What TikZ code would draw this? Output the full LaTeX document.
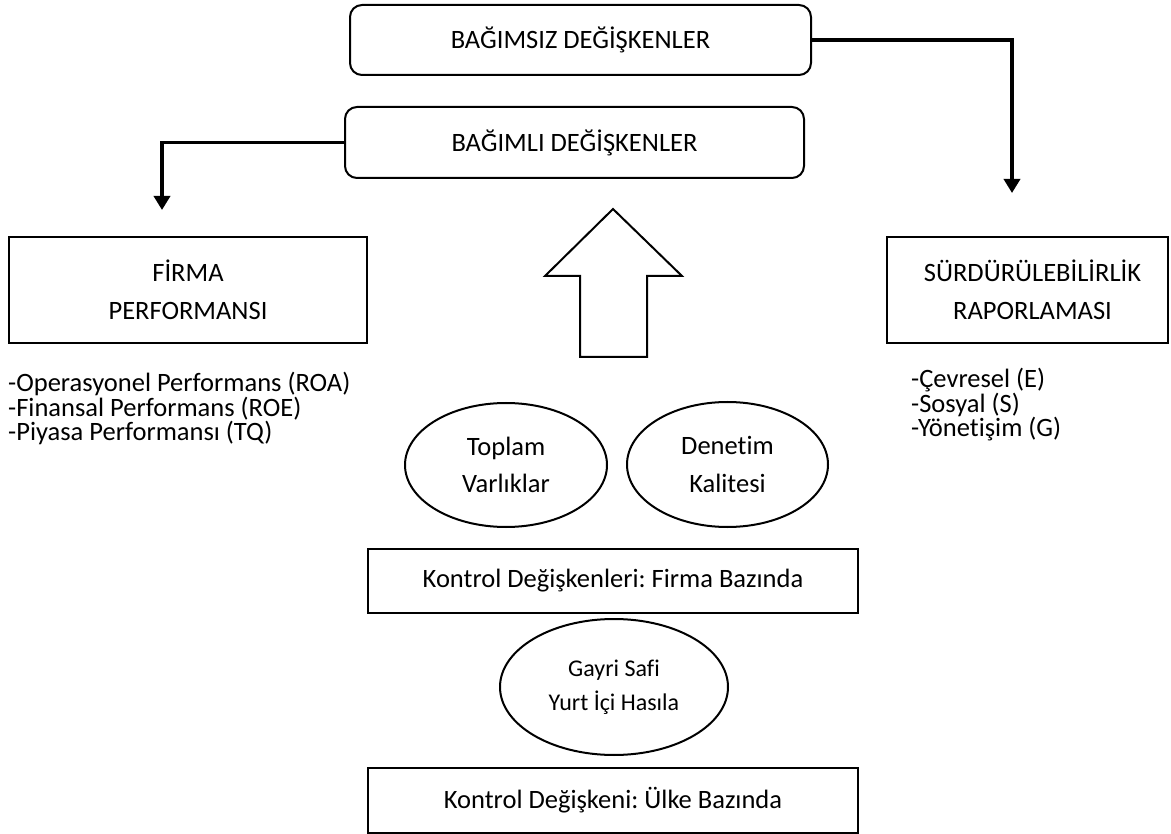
\documentclass[tikz,border=0pt]{standalone}
\usepackage{fontspec}
\setmainfont{Carlito}[Ligatures={NoCommon}]
\usetikzlibrary{arrows.meta,shapes.geometric}
\frenchspacing
\begin{document}
\begin{tikzpicture}[x=1pt,y=-1pt,
  rbox/.style={draw,line width=2pt,rounded corners=12pt,minimum width=#1,minimum height=70pt,inner sep=0pt,font=\fontsize{26.5}{30}\selectfont},
  sbox/.style={draw,line width=2pt,inner sep=0pt,align=center},
  oval/.style={draw,line width=2pt,ellipse,inner sep=0pt,align=center},
  conn/.style={line width=3.5pt,-{Triangle[width=16pt,length=14pt]}},
  bigtxt/.style={font=\fontsize{26.5}{37.5}\selectfont},
  listtxt/.style={font=\fontsize{26.5}{24.5}\selectfont,align=left,anchor=north west,inner sep=0pt}
]
\useasboundingbox (0,0) rectangle (1171,834);

\node[rbox=461pt] (indep) at (580.5,40) {BAĞIMSIZ DEĞİŞKENLER};
\node[rbox=459pt,minimum height=71pt] (dep) at (574.5,142.5) {BAĞIMLI DEĞİŞKENLER};

\node[sbox,bigtxt,minimum width=358pt,minimum height=106pt] (firma) at (188,290) {FİRMA\\PERFORMANSI};
\node[sbox,bigtxt,minimum width=281pt,minimum height=106pt] (surd) at (1027.5,290) {\hspace{10pt}SÜRDÜRÜLEBİLİRLİK\\\hspace{10pt}RAPORLAMASI};

\coordinate (rt) at (1012,193);
\coordinate (lt) at (162,210);
\draw[conn] (indep.east) -| (rt);
\draw[conn] (dep.west) -| (lt);

\node[listtxt] (flist) at (8,372) {-Operasyonel Performans (ROA)\\-Finansal Performans (ROE)\\-Piyasa Performansı (TQ)};
\node[listtxt] (slist) at (911,368) {-Çevresel (E)\\-Sosyal (S)\\-Yönetişim (G)};

\draw[line width=2pt,line join=miter] (613,209) -- (682,276) -- (647,276) -- (647,357) -- (580,357) -- (580,276) -- (545,276) -- cycle;

\node[oval,bigtxt,minimum width=202pt,minimum height=124pt] (toplam) at (506,465) {Toplam\\Varlıklar};
\node[oval,bigtxt,minimum width=201pt,minimum height=125pt] (denetim) at (727.5,464.5) {Denetim\\Kalitesi};

\node[sbox,font=\fontsize{26.5}{30}\selectfont,minimum width=490pt,minimum height=64pt] (kfirma) at (613,581) {Kontrol Değişkenleri: Firma Bazında};

\node[oval,font=\fontsize{24}{34}\selectfont,minimum width=228pt,minimum height=136pt] (gsyh) at (614,687) {Gayri Safi\\Yurt İçi Hasıla};

\node[sbox,font=\fontsize{26.5}{30}\selectfont,minimum width=490pt,minimum height=65pt] (kulke) at (613,800.5) {Kontrol Değişkeni: Ülke Bazında};
\end{tikzpicture}
\end{document}
